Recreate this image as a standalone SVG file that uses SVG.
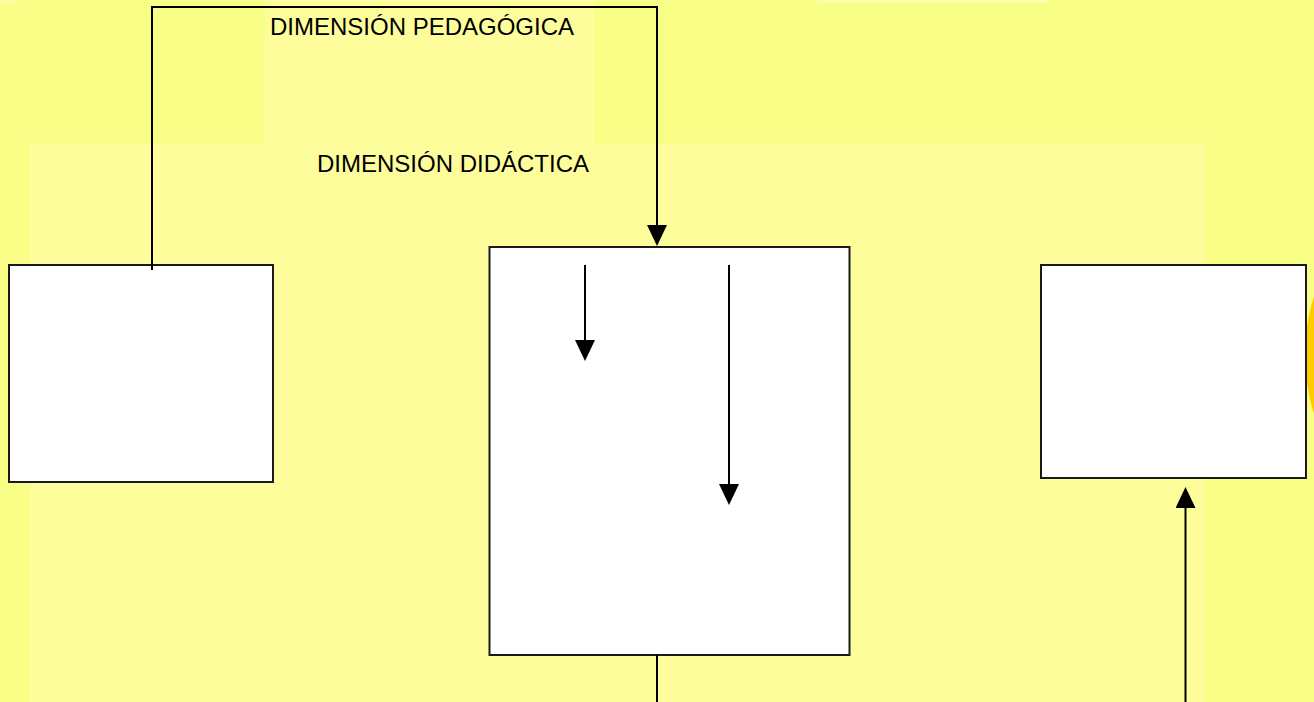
<svg xmlns="http://www.w3.org/2000/svg" width="1314" height="702" viewBox="0 0 1314 702">
  <style>
    .bg { fill: #f8fe86; }
    .bglight { fill: #fdfe9b; }
    .box { fill: #ffffff; stroke: #1a1a1a; stroke-width: 2; }
    .conn { fill: none; stroke: #000000; stroke-width: 2; }
    .label { font-family: "Liberation Sans", Arial, sans-serif; font-size: 24px; fill: #000000; }
  </style>
  <defs>
    <marker id="arrow" markerUnits="userSpaceOnUse" markerWidth="22" markerHeight="20" refX="0" refY="10" orient="auto" viewBox="0 0 22 20">
      <path d="M0,0 L21,10 L0,20 Z" fill="#000000"/>
    </marker>
  </defs>

  <g id="background">
    <rect class="bg" x="0" y="0" width="1314" height="702"/>
    <rect class="bglight" x="265" y="0" width="329" height="143"/>
    <rect class="bglight" x="30" y="143" width="1174" height="559"/>
    <rect class="bglight" x="0" y="0" width="18" height="5"/>
    <rect fill="#fdfdb0" x="817" y="0" width="231" height="3"/>
    <circle cx="1505" cy="355" r="200" fill="#ffcc00"/>
  </g>

  <g id="labels">
    <text class="label" x="270" y="35">DIMENSIÓN PEDAGÓGICA</text>
    <text class="label" x="317" y="172">DIMENSIÓN DIDÁCTICA</text>
  </g>

  <g id="node-left">
    <rect class="box" x="9" y="265" width="264" height="217"/>
  </g>
  <g id="node-center">
    <rect class="box" x="489.5" y="247" width="360" height="408"/>
  </g>
  <g id="node-right">
    <rect class="box" x="1041" y="265" width="265" height="213"/>
  </g>

  <g id="connectors">
    <path class="conn" d="M152,270 V7 H657 V225" marker-end="url(#arrow)"/>
    <path class="conn" d="M585,265 V340" marker-end="url(#arrow)"/>
    <path class="conn" d="M729,265 V484" marker-end="url(#arrow)"/>
    <path class="conn" d="M657,655 V702"/>
    <path class="conn" d="M1185.5,702 V508" marker-end="url(#arrow)"/>
  </g>
</svg>
